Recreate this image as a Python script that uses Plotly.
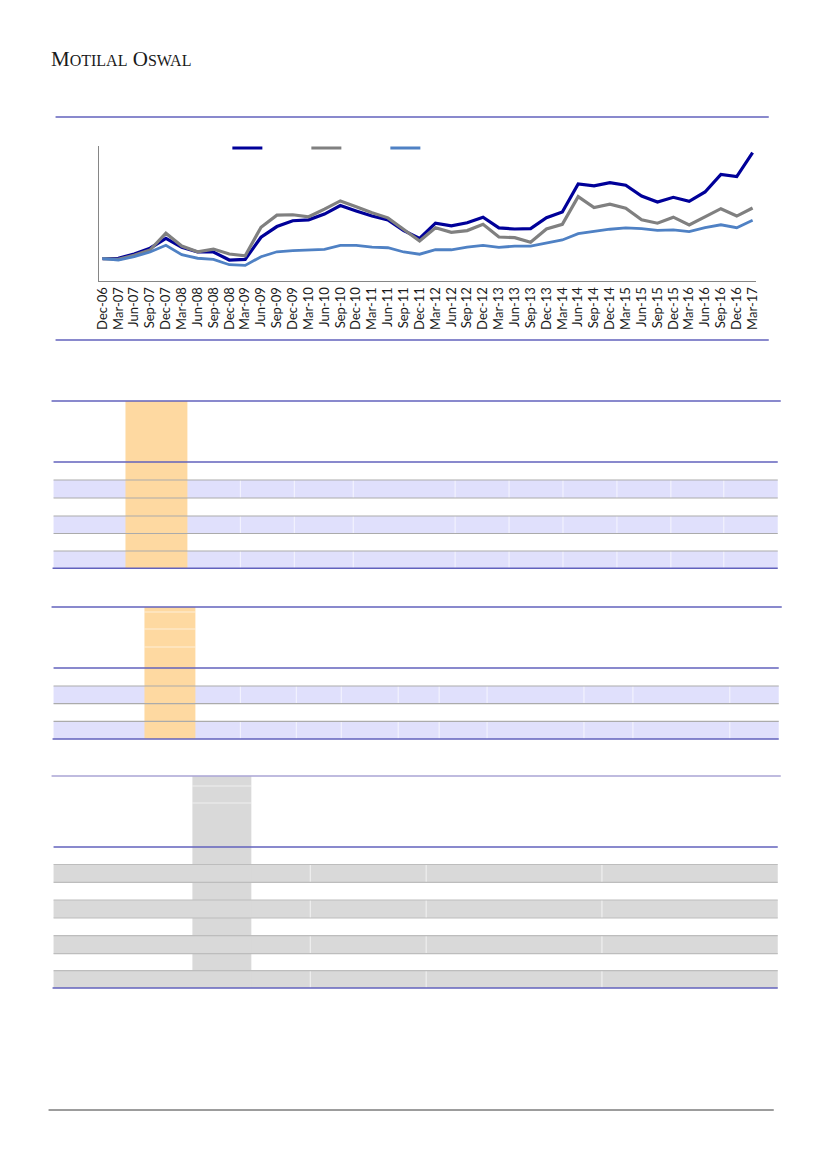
import plotly.graph_objects as go

"""
Motilal Oswal page: three-series quarterly line chart plus three (empty) tables
"""

PAGE_W = 827
PAGE_H = 1169
BODY_MARGIN = 8  # the html body keeps an 8px margin round the figure
FIG_W = PAGE_W - 2 * BODY_MARGIN
FIG_H = PAGE_H - 2 * BODY_MARGIN
# the photographed page comes out a touch narrower than asked, undo that
X_SCALE = 0.99
X_SHIFT = 11.4

quarters = ["Dec-06", "Mar-07", "Jun-07", "Sep-07", "Dec-07", "Mar-08", "Jun-08", "Sep-08",
            "Dec-08", "Mar-09", "Jun-09", "Sep-09", "Dec-09", "Mar-10", "Jun-10", "Sep-10",
            "Dec-10", "Mar-11", "Jun-11", "Sep-11", "Dec-11", "Mar-12", "Jun-12", "Sep-12",
            "Dec-12", "Mar-13", "Jun-13", "Sep-13", "Dec-13", "Mar-14", "Jun-14", "Sep-14",
            "Dec-14", "Mar-15", "Jun-15", "Sep-15", "Dec-15", "Mar-16", "Jun-16", "Sep-16",
            "Dec-16", "Mar-17"]

# index values, Dec-06 = 100
series_dark = [100, 102, 121, 147, 191, 151, 130, 130, 94, 97, 196, 244, 270, 274, 300, 338,
               314, 291, 274, 226, 191, 259, 247, 261, 286, 238, 233, 235, 284, 309, 435, 426,
               441, 429, 381, 354, 375, 357, 399, 478, 468, 575]
series_gray = [100, 97, 115, 139, 214, 157, 131, 143, 121, 113, 241, 295, 297, 288, 322, 359,
               333, 306, 283, 229, 179, 239, 218, 226, 254, 197, 194, 174, 233, 254, 378, 329,
               344, 326, 274, 259, 286, 251, 288, 324, 291, 327]
series_light = [100, 94, 109, 130, 160, 118, 102, 97, 73, 70, 109, 131, 136, 138, 142, 160,
                160, 152, 149, 130, 120, 140, 140, 152, 160, 151, 156, 156, 170, 184, 212, 223,
                232, 238, 235, 227, 229, 221, 239, 252, 239, 272]

FRAME_BLUE = "#6262bd"
LAVENDER = "#e0e0fc"
ORANGE = "#fed9a1"
LIGHT_GRAY = "#d9d9d9"


def px_x(x):
    return ((x - X_SHIFT) / X_SCALE) / FIG_W


def px_y(y):
    return 1 - (y - BODY_MARGIN) / FIG_H


def hline(y, x0, x1, color, width):
    return dict(type="line", xref="paper", yref="paper", x0=px_x(x0), x1=px_x(x1),
                y0=px_y(y), y1=px_y(y), line=dict(color=color, width=width))


def vline(x, y0, y1, color, width):
    return dict(type="line", xref="paper", yref="paper", x0=px_x(x), x1=px_x(x),
                y0=px_y(y0), y1=px_y(y1), line=dict(color=color, width=width))


def rect(x0, x1, y0, y1, color):
    return dict(type="rect", xref="paper", yref="paper", x0=px_x(x0), x1=px_x(x1),
                y0=px_y(y1), y1=px_y(y0), fillcolor=color, line=dict(width=0), layer="below")


def table_shapes(left, right, top, rows, stripe, hi_col, hi_color, seps, head_lines,
                 top_color, row_line):
    shapes = []
    bottom = rows[-1]
    # striped rows
    for i in range(len(rows) - 1):
        if i % 2 == 1:
            shapes.append(rect(left, right, rows[i], rows[i + 1], stripe))
    # highlighted column
    shapes.append(rect(hi_col[0], hi_col[1], top, bottom, hi_color))
    for hy in head_lines:
        shapes.append(hline(hy, hi_col[0], hi_col[1], "rgba(255,255,255,0.6)", 1))
    # faint column separators inside the striped rows
    for i in range(len(rows) - 1):
        if i % 2 == 1:
            for sx in seps:
                shapes.append(vline(sx, rows[i], rows[i + 1], "rgba(255,255,255,0.7)", 1))
    for ry in rows[1:-1]:
        shapes.append(hline(ry, left, right, row_line, 1.2))
    shapes.append(hline(top, left - 2, right + 3, top_color, 1.5))
    shapes.append(hline(rows[0], left, right, FRAME_BLUE, 1.5))
    shapes.append(hline(bottom, left - 1, right, FRAME_BLUE, 1.5))
    return shapes


def main():

    fig = go.Figure()
    x_idx = list(range(len(quarters)))

    fig.add_trace(go.Scatter(x=x_idx, y=series_dark, mode="lines", name="",
                             line=dict(color="#000099", width=3.2)))
    fig.add_trace(go.Scatter(x=x_idx, y=series_gray, mode="lines", name="",
                             line=dict(color="#808080", width=3.2)))
    fig.add_trace(go.Scatter(x=x_idx, y=series_light, mode="lines", name="",
                             line=dict(color="#4f81c4", width=2.8)))

    fig.update_xaxes(domain=[px_x(97), px_x(755)], range=[-0.25, 41.2],
                     tickmode="array", tickvals=x_idx, ticktext=quarters, tickangle=-90,
                     tickfont=dict(family="Lato", size=13, color="#1a1a1a"),
                     showline=True, linecolor="#868686", linewidth=1,
                     showgrid=False, zeroline=False, ticks="")
    fig.update_yaxes(domain=[px_y(281), px_y(146)], range=[0, 605],
                     showline=True, linecolor="#868686", linewidth=1,
                     showticklabels=False, showgrid=False, zeroline=False, ticks="")

    shapes = []
    # chart frame lines
    shapes.append(hline(117, 54, 768, FRAME_BLUE, 1.3))
    shapes.append(hline(340, 54, 768, FRAME_BLUE, 1.3))
    # footer rule
    shapes.append(hline(1110, 47, 773, "#3a3a3a", 1))

    shapes += table_shapes(52, 777, 401, [462, 480, 498, 516, 533.5, 551, 568.3],
                           LAVENDER, (124, 186), ORANGE,
                           [239, 293, 352, 454, 508, 562, 616, 670, 723], [],
                           FRAME_BLUE, "#ababab")
    shapes += table_shapes(52, 778, 607, [668, 686, 703.7, 721.3, 739],
                           LAVENDER, (143, 194), ORANGE,
                           [239, 295, 340, 397, 438, 486, 583, 632, 729], [612, 629, 647],
                           FRAME_BLUE, "#ababab")
    shapes += table_shapes(52, 777, 776, [847, 864.5, 882.3, 900, 918, 935.7, 953.7, 970.7, 988],
                           LIGHT_GRAY, (191, 250), LIGHT_GRAY,
                           [309, 425, 601], [786, 803],
                           "#aaa4d4", "#bdbdbd")

    fig.update_layout(
        width=FIG_W, height=FIG_H, autosize=False,
        margin=dict(l=0, r=0, t=0, b=0),
        paper_bgcolor="white", plot_bgcolor="white",
        shapes=shapes,
        showlegend=True,
        legend=dict(orientation="h", x=px_x(226), y=px_y(148), xanchor="left", yanchor="middle",
                    entrywidth=34, entrywidthmode="pixels", itemwidth=30,
                    font=dict(family="Lato", size=10), bgcolor="rgba(0,0,0,0)", borderwidth=0),
        annotations=[dict(
            text='M<span style="font-size:16px">OTILAL</span> O<span style="font-size:16px">SWAL</span>',
            xref="paper", yref="paper", x=px_x(47), y=px_y(59), xanchor="left", yanchor="middle",
            showarrow=False, font=dict(family="Liberation Serif", size=21, color="#1a1a1a"))],
    )

    fig.write_html("out.html")


if __name__ == "__main__":

    main()
